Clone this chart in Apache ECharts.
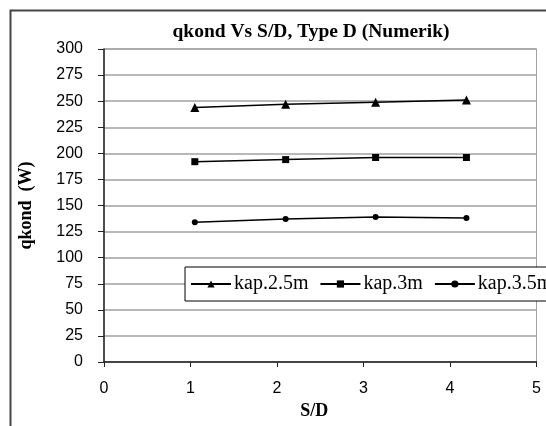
<!DOCTYPE html>
<html><head><meta charset="utf-8">
<script src="https://cdn.jsdelivr.net/npm/echarts@6/dist/echarts.min.js"></script>
<style>html,body{margin:0;padding:0;background:#fff}#c{width:546px;height:426px}</style>
</head><body><div id="c"></div>
<script>
var sdValues = [1.05, 2.1, 3.14, 4.19];
var kap25 = [244, 247, 249, 251];
var kap3 = [192, 194, 196, 196];
var kap35 = [134, 137, 139, 138];
var seriesNames = ['kap.2.5m', 'kap.3m', 'kap.3.5m'];
var titleText = 'qkond Vs S/D, Type D (Numerik)';
var xName = 'S/D';
var yName = 'qkond  (W)';

function pairs(ys){ return sdValues.map(function(x,i){ return [x, ys[i]]; }); }
var serif = '"Liberation Serif", "Times New Roman", serif';
var sans = '"Liberation Sans", Arial, sans-serif';
var chart = echarts.init(document.getElementById('c'), null, {renderer:'canvas'});
chart.setOption({
  animation:false,
  backgroundColor:'#fff',
  title:{text:titleText,left:306,textAlign:'center',top:17,
    textStyle:{fontFamily:serif,fontWeight:'bold',fontSize:19.5,color:'#000'}},
  graphic:[{type:'polyline',shape:{points:[[10.5,440],[10.5,10.5],[560,10.5]]},
    style:{stroke:'#444',lineWidth:2,fill:null},z:100}],
  grid:{left:104,right:9.5,top:49,bottom:64,show:true,borderColor:'#a0a0a0',borderWidth:1},
  legend:{left:185,top:267,width:460,orient:'horizontal',
    data:seriesNames,itemWidth:40,itemHeight:9,itemGap:11,
    borderColor:'#000',borderWidth:1,padding:[7,6,7,5],backgroundColor:'#fff',
    textStyle:{fontFamily:serif,fontSize:20,color:'#000',padding:[0,0,0,-2]}},
  xAxis:{type:'value',min:0,max:5,interval:1,name:xName,nameLocation:'middle',nameGap:40,
    nameTextStyle:{fontFamily:serif,fontWeight:'bold',fontSize:18,color:'#000',padding:[0,12,0,0]},
    axisLine:{lineStyle:{color:'#222',width:1.5}},
    axisTick:{show:true,length:5,lineStyle:{color:'#222'}},
    axisLabel:{fontFamily:sans,fontSize:16,color:'#000',margin:19},
    splitLine:{show:false}},
  yAxis:{type:'value',min:0,max:300,interval:25,name:yName,nameLocation:'middle',nameGap:69,
    nameTextStyle:{fontFamily:serif,fontWeight:'bold',fontSize:18,color:'#000'},
    axisLine:{show:true,lineStyle:{color:'#222',width:1.5}},
    axisTick:{show:true,length:6,lineStyle:{color:'#222'}},
    axisLabel:{fontFamily:sans,fontSize:16,color:'#000',margin:21},
    splitLine:{show:true,lineStyle:{color:'#a0a0a0',width:1.5}}},
  series:[
    {name:seriesNames[0],type:'line',data:pairs(kap25),symbol:'triangle',symbolSize:9,
      itemStyle:{color:'#000'},lineStyle:{color:'#000',width:1.5}},
    {name:seriesNames[1],type:'line',data:pairs(kap3),symbol:'rect',symbolSize:7,
      itemStyle:{color:'#000'},lineStyle:{color:'#000',width:1.5}},
    {name:seriesNames[2],type:'line',data:pairs(kap35),symbol:'circle',symbolSize:6,
      itemStyle:{color:'#000'},lineStyle:{color:'#000',width:1.5}}
  ]
});
</script></body></html>
